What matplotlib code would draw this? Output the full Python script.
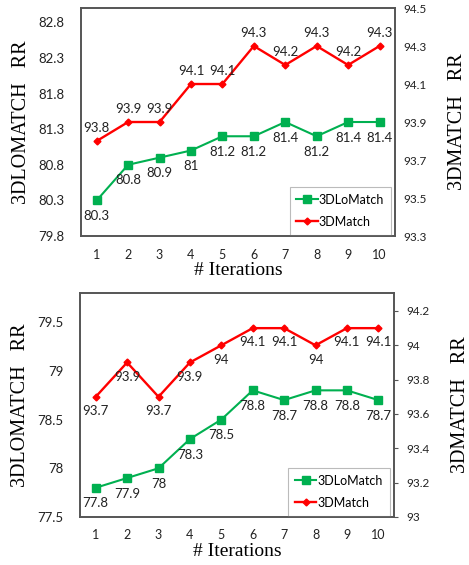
import matplotlib
matplotlib.use("Agg")
import matplotlib.pyplot as plt

iterations = [1, 2, 3, 4, 5, 6, 7, 8, 9, 10]

top_lomatch = [80.3, 80.8, 80.9, 81, 81.2, 81.2, 81.4, 81.2, 81.4, 81.4]
top_match = [93.8, 93.9, 93.9, 94.1, 94.1, 94.3, 94.2, 94.3, 94.2, 94.3]
top_left_ticks = [79.8, 80.3, 80.8, 81.3, 81.8, 82.3, 82.8]
top_right_ticks = [93.3, 93.5, 93.7, 93.9, 94.1, 94.3, 94.5]

bot_lomatch = [77.8, 77.9, 78, 78.3, 78.5, 78.8, 78.7, 78.8, 78.8, 78.7]
bot_match = [93.7, 93.9, 93.7, 93.9, 94, 94.1, 94.1, 94, 94.1, 94.1]
bot_left_ticks = [77.5, 78, 78.5, 79, 79.5]
bot_right_ticks = [93, 93.2, 93.4, 93.6, 93.8, 94, 94.2]

GREEN = "#00B050"
RED = "#FF0000"
SANS = ["Lato", "DejaVu Sans"]
SERIF = ["Liberation Serif", "DejaVu Serif"]
TXT = "#222222"

fig = plt.figure(figsize=(4.69, 5.65), dpi=100)


def fmt(v):
    s = f"{v:.1f}"
    return s[:-2] if s.endswith(".0") else s


def panel(rect, lo, ma, lticks, rticks, llim, rlim, red_above, rtick_len):
    ax = fig.add_axes(rect)
    ax2 = ax.twinx()
    l1, = ax.plot(iterations, lo, color=GREEN, marker="s", markersize=6,
                  linewidth=1.5, label="3DLoMatch")
    l2, = ax2.plot(iterations, ma, color=RED, marker="D", markersize=3.5,
                   linewidth=1.7, label="3DMatch")
    ax.set_xlim(0.5, 10.5)
    ax.set_ylim(*llim)
    ax2.set_ylim(*rlim)
    ax.set_xticks(iterations)
    ax.set_yticks(lticks)
    ax.set_yticklabels([fmt(t) for t in lticks])
    ax2.set_yticks(rticks)
    ax2.set_yticklabels([fmt(t) for t in rticks])
    for a in (ax, ax2):
        for sp in a.spines.values():
            sp.set_color("#555555")
            sp.set_linewidth(1.2)
    ax.tick_params(axis="x", length=0, pad=9, labelsize=9, colors=TXT)
    ax.tick_params(axis="y", length=0, pad=12, labelsize=9.5, colors=TXT)
    ax2.tick_params(axis="y", length=rtick_len, width=0.8, pad=6, labelsize=8.5,
                    colors=TXT, color="#555555")
    for lbl in ax.get_xticklabels() + ax.get_yticklabels() + ax2.get_yticklabels():
        lbl.set_family(SANS)
    for x, v in zip(iterations, lo):
        ax.annotate(fmt(v), (x, v), xytext=(0, -7), textcoords="offset points",
                    ha="center", va="top", fontsize=9.5, family=SANS, color=TXT)
    for x, v in zip(iterations, ma):
        if red_above:
            ax2.annotate(fmt(v), (x, v), xytext=(0, 5), textcoords="offset points",
                         ha="center", va="bottom", fontsize=9.5, family=SANS, color=TXT)
        else:
            ax2.annotate(fmt(v), (x, v), xytext=(0, -6), textcoords="offset points",
                         ha="center", va="top", fontsize=9.5, family=SANS, color=TXT)
    ax.set_ylabel("3DLOMATCH   RR", fontsize=14.5, family=SERIF, labelpad=5)
    ax2.set_ylabel("3DMATCH   RR", fontsize=14.5, family=SERIF, labelpad=15)
    ax.set_xlabel("# Iterations", fontsize=14, family=SERIF, labelpad=1)
    leg = ax.legend(handles=[l1, l2], loc="lower right", bbox_to_anchor=(0.995, -0.005),
                    prop={"family": SANS, "size": 9}, fancybox=False,
                    edgecolor="#BBBBBB", framealpha=1, handlelength=1.7,
                    handletextpad=0.1, borderpad=0.55, labelspacing=0.8,
                    borderaxespad=0.2)
    leg.get_frame().set_linewidth(0.8)
    return ax, ax2


panel([0.1727, 0.5823, 0.670, 0.4035], top_lomatch, top_match,
      top_left_ticks, top_right_ticks, (79.8, 83.0), (93.3, 94.5), True, 0)
panel([0.1706, 0.085, 0.6695, 0.3965], bot_lomatch, bot_match,
      bot_left_ticks, bot_right_ticks, (77.5, 79.8), (93.0, 94.305), False, 3)

fig.savefig("out.png", dpi=100)
